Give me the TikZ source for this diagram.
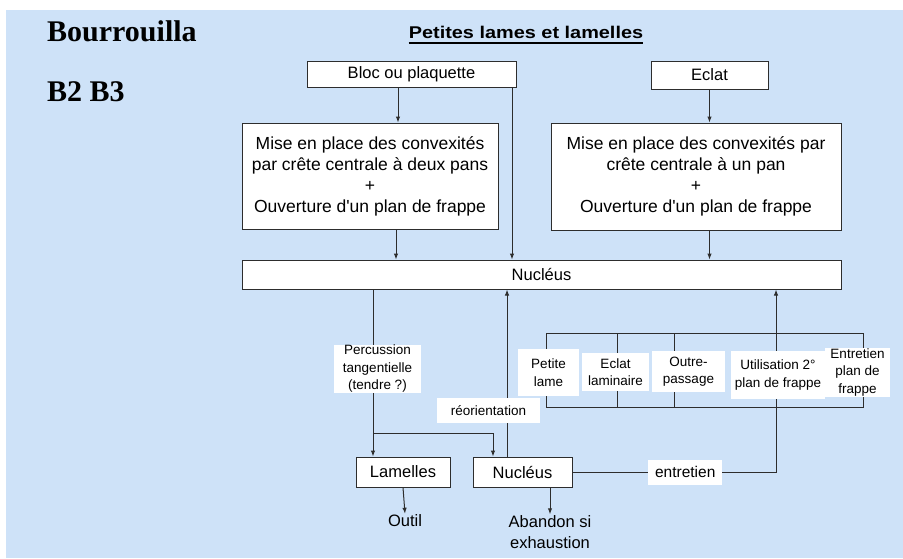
\documentclass[tikz,border=0pt]{standalone}
\usepackage{fontspec}
\setmainfont{Liberation Sans}
\newfontfamily\timesfont{Liberation Serif}
\usepackage{graphicx}
\usetikzlibrary{arrows.meta}

\definecolor{paper}{RGB}{206,226,248}
\definecolor{ink}{RGB}{45,45,45}

\tikzset{
  box/.style={draw=ink, fill=white, line width=1pt, inner sep=0pt, align=center,
    font=\fontsize{17.5}{21}\selectfont},
  midbox/.style={box, font=\fontsize{16.5}{21}\selectfont},
  lbl/.style={fill=white, inner sep=0pt, align=center, font=\fontsize{13.5}{17.5}\selectfont},
  txt/.style={inner sep=1pt, align=center, font=\fontsize{16.5}{21}\selectfont},
  arr/.style={-{Latex[length=6pt,width=4.5pt]}, draw=ink, line width=1pt},
  ln/.style={draw=ink, line width=1pt},
}

\begin{document}
\begin{tikzpicture}[x=1pt,y=-1pt]

\useasboundingbox (0,0) rectangle (903,558);
\fill[paper] (6,10) rectangle (903,558);

% titles
\node [anchor=base west, inner sep=0pt, font=\timesfont\bfseries\fontsize{30}{30}\selectfont] (site) at (47,41) {Bourrouilla};
\node [anchor=base west, inner sep=0pt, font=\timesfont\bfseries\fontsize{30}{30}\selectfont] (level) at (47,101) {B2 B3};
\node [anchor=base, inner sep=0pt, font=\bfseries\fontsize{17}{17}\selectfont] (title) at (526,38) {\scalebox{1.17}[1]{Petites lames et lamelles}};
\draw [line width=1.3pt] ([yshift=-5pt]title.base west) -- ([yshift=-5pt]title.base east);

% upper part
\node [midbox, minimum width=209pt, minimum height=26pt] (bloc) at (411.5,74) {Bloc ou plaquette};
\node [midbox, minimum width=117pt, minimum height=28pt] (eclat) at (709.5,75) {Eclat};

\node [box, minimum width=256pt, minimum height=106pt] (convA) at (370,176)
  {Mise en place des convexités\\par crête centrale à deux pans\\+\\Ouverture d\textquotesingle un plan de frappe};
\node [box, minimum width=290pt, minimum height=107pt] (convB) at (696,176.5)
  {Mise en place des convexités par\\crête centrale à un pan\\+\\Ouverture d\textquotesingle un plan de frappe};

\node [midbox, minimum width=599pt, minimum height=29pt] (nucl) at (541.5,274.5) {Nucléus};

\draw [arr] ([xshift=-13.5pt]bloc.south) -- ([xshift=-13.5pt]bloc.south |- convA.north);
\draw [arr] ([xshift=26pt]convA.south) -- ([xshift=26pt]convA.south |- nucl.north);
\draw [arr] ([xshift=100.5pt]bloc.south) -- ([xshift=100.5pt]bloc.south |- nucl.north);
\draw [arr] (eclat.south) -- (eclat.south |- convB.north);
\draw [arr] (eclat.south |- convB.south) -- (eclat.south |- nucl.north);

% lower part
\node [midbox, minimum width=94pt, minimum height=30pt] (lamelles) at (403,472) {Lamelles};
\node [midbox, minimum width=99pt, minimum height=30pt] (nucB) at (522.5,472) {Nucléus};
\node [txt] (outil) at (405,521) {Outil};
\node [txt] (abandon) at (550,532) {Abandon si\\exhaustion};

\coordinate (split) at (373,433);
\draw [arr] ([xshift=-30pt]lamelles.north |- nucl.south) -- node [lbl, pos=.476, xshift=4.5pt, minimum width=87pt, minimum height=46pt] {Percussion\\tangentielle\\(tendre ?)} ([xshift=-30pt]lamelles.north);
\draw [arr] (split) -| ([xshift=-29.5pt]nucB.north);
\draw [arr] ([xshift=-15.5pt]nucB.north) -- node [lbl, pos=.277, xshift=-18.5pt, minimum width=103pt, minimum height=25pt] {réorientation} ([xshift=-15.5pt]nucB.north |- nucl.south);
\draw [arr] (lamelles.south) -- (outil.north);
\draw [arr] (abandon.north |- nucB.south) -- (abandon.north);

% bracket of the ways of maintenance
\coordinate (brTL) at (546,333);
\coordinate (brBR) at (863,407);
\draw [ln] (brTL) rectangle (brBR);
\draw [ln] (617,333) -- (617,407);
\draw [ln] (674,333) -- (674,407);

\draw [arr] (nucB.east) -| node [lbl, pos=.277, minimum width=74pt, minimum height=25pt, font=\fontsize{15.5}{17}\selectfont] {entretien} ([xshift=234.5pt]nucl.south);

\node [lbl, minimum width=61pt, minimum height=47pt] (petite) at (548.5,372.5) {Petite\\lame};
\node [lbl, minimum width=67pt, minimum height=38pt] (eclam) at (615.5,372) {Eclat\\laminaire};
\node [lbl, minimum width=73pt, minimum height=41pt] (outre) at (688.5,371.5) {Outre-\\passage};
\node [lbl, minimum width=94pt, minimum height=48pt] (util) at (778,375) {Utilisation 2°\\plan de frappe};
\node [lbl, minimum width=65pt, minimum height=49pt] (entr) at (857.5,372.5) {Entretien\\plan de\\frappe};

\end{tikzpicture}
\end{document}
